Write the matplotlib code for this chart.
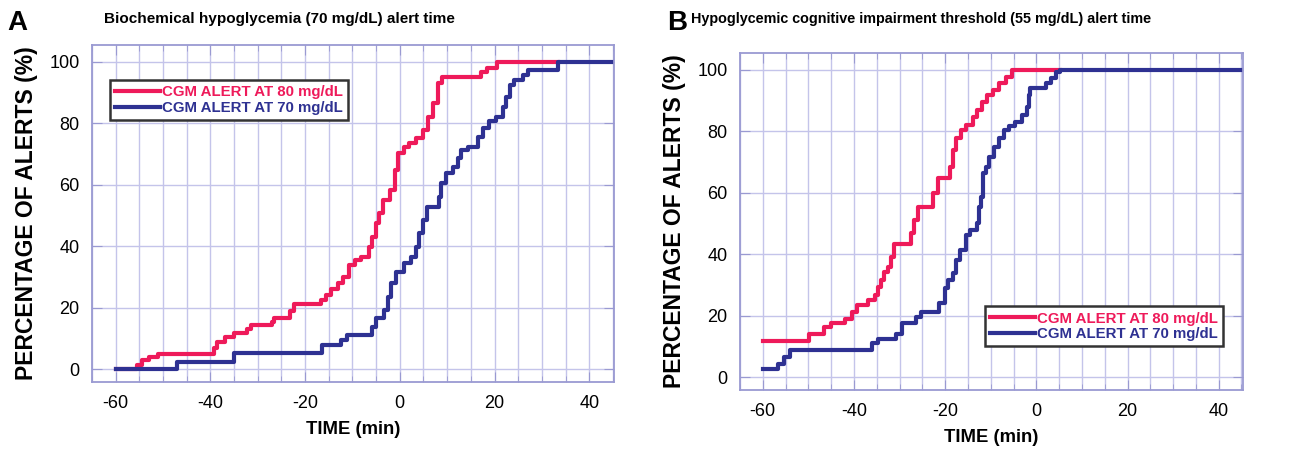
import matplotlib.pyplot as plt
from matplotlib.ticker import MultipleLocator

plt.rcParams['font.family'] = ['Liberation Sans', 'DejaVu Sans']
plt.rcParams['axes.unicode_minus'] = False

# Panel A : alerte hypoglycémie biochimique (70 mg/dL)
a80_t = [-60, -55.5, -54.5, -53, -51, -39.3, -38.5, -37, -35, -32.2, -31.5, -27, -26.6,
         -23.1, -22.4, -16.7, -15.5, -14.5, -13, -12, -10.7, -9.5, -8.2, -6.5, -5.8, -5,
         -4.3, -3.5, -2.1, -1.1, -0.3, 0.8, 2, 3.5, 5, 6, 7, 8, 9, 17.1, 18.5, 20.5, 33.5]
a80_p = [0, 1.5, 3, 4, 5, 7, 9, 10.5, 11.8, 13, 14.3, 15.5, 16.5,
         19, 21.2, 22.5, 24, 26, 28, 30, 33.9, 35.5, 36.5, 39.8, 43, 47.4,
         50.7, 55, 58.3, 64.8, 70.3, 72.4, 73.5, 75.1, 77.9, 82.2, 86.5, 93, 95.2, 96.8, 97.9, 100, 100]

a70_t = [-60, -47, -35, -18.1, -16.5, -12.5, -11.2, -5.8, -5, -3.3, -2.5, -1.8, -0.7, 0.9,
         2.3, 3.4, 4.1, 4.8, 5.8, 8.2, 8.7, 9.8, 11.2, 12.2, 12.9, 14.3, 16.5, 17.5, 18.9,
         20.3, 21.7, 22.4, 23.2, 24.2, 26, 27, 33.5, 45]
a70_p = [0, 2.4, 5.3, 5.3, 7.8, 9.5, 11.1, 13.8, 16.6, 19.2, 23.6, 28, 31.7, 34.5,
         36.6, 39.8, 44.3, 48.5, 52.9, 56.1, 60.6, 63.7, 65.9, 68.6, 71.3, 72.4, 75.7, 78.4, 80.6,
         82.2, 85.4, 88.7, 92.5, 94.1, 95.8, 97.4, 100, 100]

# Panel B : seuil d'altération cognitive (55 mg/dL)
b80_t = [-60, -49.8, -46.5, -45, -42, -40.5, -39.3, -37, -35.5, -34.8, -34.1, -33.4, -32.6,
         -31.9, -31.2, -27.6, -26.8, -26, -22.6, -21.6, -19, -18.2, -17.6, -16.5, -15.5, -14,
         -13, -12, -10.8, -9.5, -8.3, -6.7, -5.4, 5.2]
b80_p = [11.7, 14.2, 16.2, 17.7, 19.1, 21.3, 23.5, 25.1, 26.7, 29.4, 31.6, 34.3, 35.9,
         39.2, 43.5, 46.8, 51.1, 55.5, 59.8, 64.7, 68.5, 73.9, 77.7, 80.5, 82.1, 84.8,
         87, 89.7, 91.9, 93.5, 95.7, 97.8, 100, 100]

b70_t = [-60, -56.7, -55.4, -54, -36, -34.8, -30.8, -29.4, -26.3, -25.2, -21.4, -20, -19.3,
         -18.2, -17.6, -16.8, -15.5, -14.6, -13, -12.6, -12.2, -11.6, -11, -10.3, -9.2, -8.1,
         -7.1, -6, -4.6, -3.2, -2.1, -1.7, -1.3, 2.2, 3.2, 4.3, 5.2, 45]
b70_p = [2.8, 4.4, 6.6, 8.8, 11, 12.3, 14.2, 17.7, 19.6, 21.3, 24, 28.9, 31.6,
         33.8, 38.1, 41.4, 46.3, 48, 50.1, 55.5, 58.7, 66.3, 68.5, 71.8, 75, 77.7,
         80.5, 81.6, 83.2, 85.3, 88, 91.9, 94, 95.7, 97.3, 99.4, 100, 100]

rouge = '#ee1a5a'
bleu = '#2e3192'
lavande = '#9a9ad2'
grille = '#c4c4ea'

fig = plt.figure(figsize=(12.96, 4.49), dpi=100)
axA = fig.add_axes([0.071, 0.149, 0.403, 0.751])
axB = fig.add_axes([0.571, 0.131, 0.388, 0.751])


def tracer(ax, t80, p80, t70, p70, loc_legende):
    ax.step(t80, p80, where='post', color=rouge, lw=3, label='CGM ALERT AT 80 mg/dL')
    ax.step(t70, p70, where='post', color=bleu, lw=3, label='CGM ALERT AT 70 mg/dL')
    ax.set_xlim(-65, 45.3)
    ax.set_ylim(-4.2, 105.5)
    ax.xaxis.set_major_locator(MultipleLocator(20))
    ax.xaxis.set_minor_locator(MultipleLocator(5))
    ax.yaxis.set_major_locator(MultipleLocator(20))
    ax.grid(True, which='both', axis='x', color=grille, lw=1)
    ax.grid(True, which='major', axis='y', color=grille, lw=1)
    ax.set_axisbelow(True)
    for s in ax.spines.values():
        s.set_color(lavande)
        s.set_linewidth(1.3)
    ax.tick_params(which='both', direction='in', top=True, right=True, color=lavande,
                   labelsize=13, pad=9)
    ax.tick_params(which='major', length=7)
    ax.tick_params(which='minor', length=4)
    ax.set_xlabel('TIME (min)', fontsize=13.3, fontweight='bold', labelpad=7)
    ax.set_ylabel('PERCENTAGE OF ALERTS (%)', fontsize=16.5, fontweight='bold', labelpad=8)
    leg = ax.legend(loc=loc_legende, handlelength=3.0, handletextpad=0.1,
                    borderpad=0.35, labelspacing=0.1, fancybox=False, framealpha=1,
                    prop={'weight': 'bold', 'size': 10.8})
    leg.get_frame().set_edgecolor('#333333')
    leg.get_frame().set_linewidth(1.8)
    for txt, c in zip(leg.get_texts(), [rouge, bleu]):
        txt.set_color(c)


tracer(axA, a80_t, a80_p, a70_t, a70_p, (0.034, 0.777))
tracer(axB, b80_t, b80_p, b70_t, b70_p, (0.487, 0.13))

fig.text(0.006, 0.948, 'A', fontsize=20, fontweight='bold', va='center')
fig.text(0.216, 0.958, 'Biochemical hypoglycemia (70 mg/dL) alert time', fontsize=11,
         fontweight='bold', ha='center', va='center')
fig.text(0.515, 0.948, 'B', fontsize=20, fontweight='bold', va='center')
fig.text(0.711, 0.958, 'Hypoglycemic cognitive impairment threshold (55 mg/dL) alert time',
         fontsize=10.4, fontweight='bold', ha='center', va='center')

fig.savefig('out.png', dpi=100)
